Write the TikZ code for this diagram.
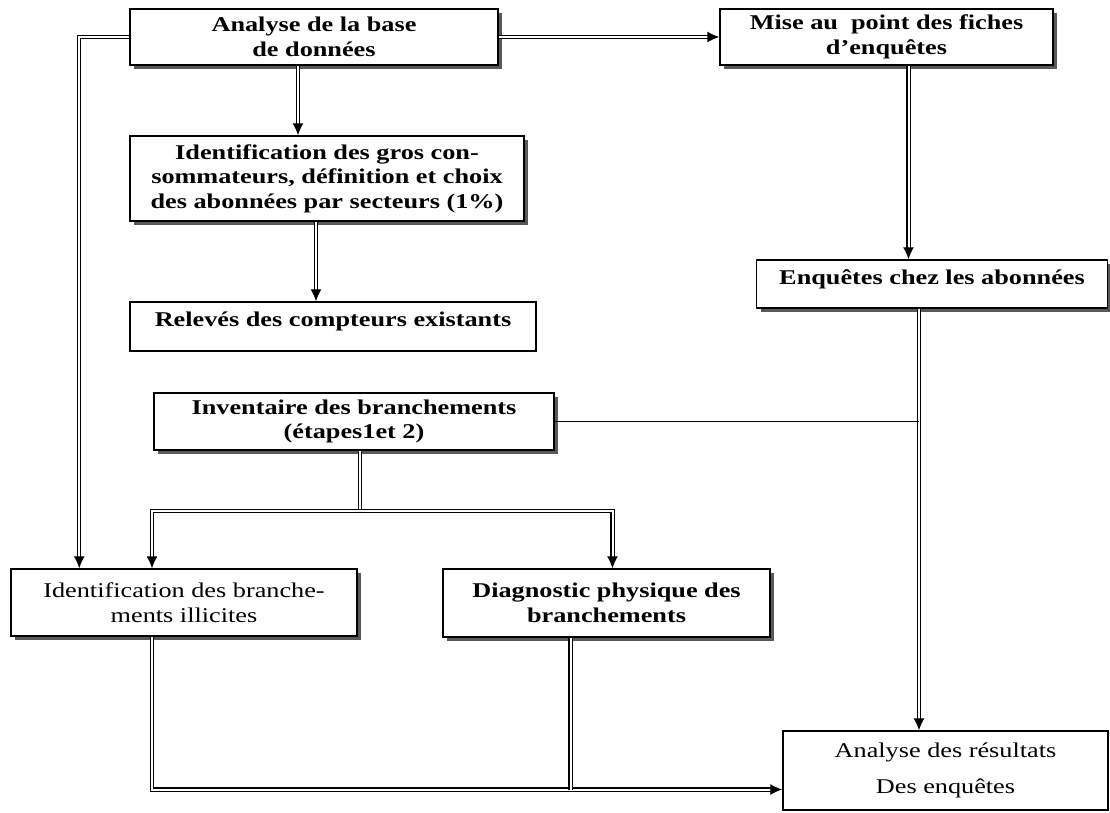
\documentclass[tikz,border=0pt]{standalone}
\usepackage{fontspec}
\setmainfont{Liberation Serif}[FakeStretch=1.25]
\usetikzlibrary{arrows.meta,shadows}

\newcommand{\flowfont}{\fontsize{21}{24.5}\selectfont}

\tikzset{
    box/.style={draw, line width=1.5pt, fill=white, align=center, inner sep=0pt,
        drop shadow={shadow xshift=4pt, shadow yshift=-4pt, fill=black!65, opacity=1}},
    flatbox/.style={draw, line width=1.5pt, fill=white, align=center, inner sep=0pt},
    heavy/.style={font=\flowfont\bfseries},
    link/.style={line width=1.2pt, double, double distance=2pt},
    thinlink/.style={line width=1.2pt},
    toarrow/.style={-{Latex[length=12pt,width=11pt]}}
}

\begin{document}
\begin{tikzpicture}[x=1pt, y=-1pt, every node/.style={font=\flowfont}]
    \useasboundingbox (0,0) rectangle (1110,812);

    % boxes
    \node[box, heavy, minimum width=368pt, minimum height=56pt] (base) at (314,37)
        {Analyse de la base\\de données};
    \node[box, heavy, minimum width=333pt, minimum height=56pt] (fiche) at (886.5,37)
        {Mise au~ point des fiches\\d’enquêtes};
    \node[box, heavy, minimum width=394pt, minimum height=85pt] (gros) at (327,178.5)
        {Identification des gros con-\\sommateurs, définition et choix\\des abonnées par secteurs (1\%)};
    \node[flatbox, heavy, minimum width=406pt, text height=24.5pt, text depth=24.5pt] (rel) at (333,326.5)
        {Relevés des compteurs existants};
    \node[box, heavy, minimum width=351pt, text height=24pt, text depth=24pt] (ench) at (932,284)
        {Enquêtes chez les abonnées};
    \node[box, heavy, minimum width=400pt, minimum height=57pt] (inv) at (354,421.5)
        {Inventaire des branchements\\(étapes1et 2)};
    \node[box, minimum width=346pt, minimum height=67pt] (illi) at (184,602.5)
        {Identification des branche-\\ments illicites};
    \node[box, heavy, minimum width=327pt, minimum height=68pt] (diag) at (606.5,603)
        {Diagnostic physique des\\branchements};
    \node[flatbox, minimum width=325pt, minimum height=79pt] (res) at (945.5,770.5)
        {Analyse des résultats\\[11pt]Des enquêtes};

    % connectors
    \draw[link, toarrow] (base.west) -| ([xshift=69pt]illi.north west);
    \draw[link, toarrow] (base.east) -- (fiche.west);
    \draw[link, toarrow] ([xshift=-16pt]base.south) -- ([xshift=-16pt]base.south |- gros.north);
    \draw[link, toarrow] ([xshift=-11pt]gros.south) -- ([xshift=-11pt]gros.south |- rel.north);
    \draw[link, toarrow] ([xshift=22pt]fiche.south) -- ([xshift=22pt]fiche.south |- ench.north);

    \coordinate (ej) at ([xshift=-13pt]ench.south);
    \draw[link, toarrow] (ej) -- (ej |- res.north);
    \draw[thinlink] (inv.east) -- (inv.east -| ej);

    \coordinate (split) at ([xshift=6pt, yshift=-60pt]inv.south);
    \draw[link] ([xshift=6pt]inv.south) -- (split);
    \draw[link, toarrow] (split) -| ([xshift=-32pt]illi.north);
    \draw[link, toarrow] (split) -| ([xshift=6pt]diag.north);

    \coordinate (entry) at ([yshift=-19pt]res.west);
    \draw[link, toarrow] ([xshift=-32pt]illi.south) |- (entry);
    \draw[link] ([xshift=-36pt]diag.south) -- ([xshift=-36pt]diag.south |- entry);
\end{tikzpicture}
\end{document}
